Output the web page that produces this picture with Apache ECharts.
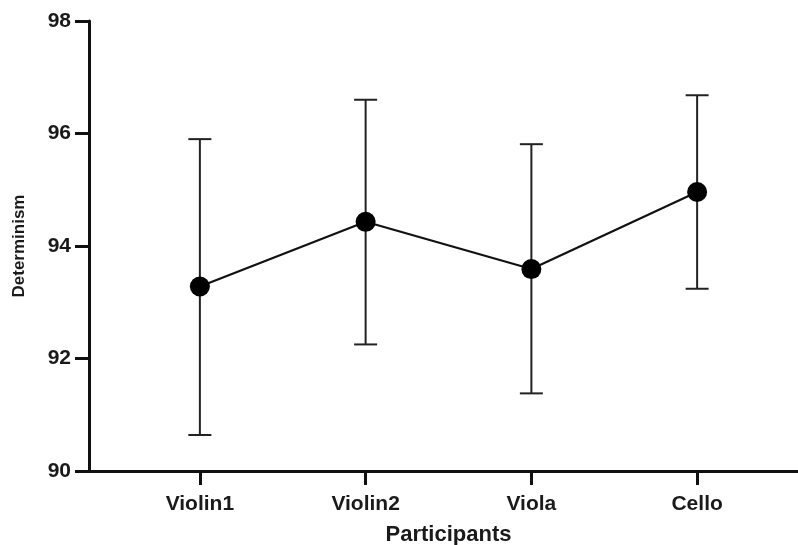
<!DOCTYPE html>
<html>
<head>
<meta charset="utf-8">
<script src="https://cdn.jsdelivr.net/npm/echarts@6/dist/echarts.min.js"></script>
<style>
html,body{margin:0;padding:0;background:#fff;}
#chart{width:798px;height:545px;}
</style>
</head>
<body>
<div id="chart"></div>
<script>
const categories = ['Violin1', 'Violin2', 'Viola', 'Cello'];
const means = [93.28, 94.43, 93.59, 94.96];
const upper = [95.90, 96.60, 95.81, 96.68];
const lower = [90.64, 92.25, 91.38, 93.24];
const yTicks = [90, 92, 94, 96, 98];

const FONT = '"Liberation Sans", Arial, sans-serif';
const INK = '#111';

const errData = categories.map((c, i) => [i, lower[i], upper[i]]);

const chart = echarts.init(document.getElementById('chart'), null, {renderer: 'canvas'});
chart.setOption({
  animation: false,
  backgroundColor: '#fff',
  grid: [
    {left: 89, right: 0, top: 21, bottom: 74, containLabel: false, outerBoundsMode: 'none'},
    {left: 117, right: 18, top: 21, bottom: 74, containLabel: false, outerBoundsMode: 'none'}
  ],
  xAxis: [
    {
      gridIndex: 0, type: 'value', min: 0, max: 1,
      axisLine: {show: true, lineStyle: {color: INK, width: 3}},
      axisTick: {show: false}, axisLabel: {show: false}, splitLine: {show: false}
    },
    {
      gridIndex: 1, type: 'category', data: categories,
      axisLine: {show: false},
      axisTick: {show: true, alignWithLabel: true, inside: false, length: 14, lineStyle: {color: INK, width: 3}},
      axisLabel: {margin: 23, fontSize: 21, fontWeight: 'bold', color: '#1a1a1a', fontFamily: FONT},
      name: 'Participants', nameLocation: 'middle', nameGap: 53,
      nameTextStyle: {fontSize: 22, fontWeight: 'bold', color: '#1a1a1a', fontFamily: FONT},
      splitLine: {show: false}
    }
  ],
  yAxis: [
    {
      gridIndex: 0, type: 'value', min: yTicks[0], max: yTicks[yTicks.length - 1], interval: 2,
      axisLine: {show: true, lineStyle: {color: INK, width: 3}},
      axisTick: {show: true, length: 14, lineStyle: {color: INK, width: 3}},
      axisLabel: {margin: 18, fontSize: 21, fontWeight: 'bold', color: '#1a1a1a', fontFamily: FONT},
      splitLine: {show: false},
      name: 'Determinism', nameLocation: 'middle', nameGap: 61, nameRotate: 90,
      nameTextStyle: {fontSize: 17, fontWeight: 'bold', color: '#1a1a1a', fontFamily: FONT}
    },
    {
      gridIndex: 1, type: 'value', min: yTicks[0], max: yTicks[yTicks.length - 1], show: false
    }
  ],
  series: [
    {
      type: 'custom',
      xAxisIndex: 1, yAxisIndex: 1,
      data: errData,
      z: 1,
      renderItem: function (params, api) {
        const x = api.value(0);
        const lo = api.coord([x, api.value(1)]);
        const hi = api.coord([x, api.value(2)]);
        const cap = 11.5;
        const style = {stroke: '#222', lineWidth: 2};
        return {
          type: 'group',
          children: [
            {type: 'line', shape: {x1: lo[0], y1: lo[1], x2: hi[0], y2: hi[1]}, style: style},
            {type: 'line', shape: {x1: hi[0] - cap, y1: hi[1], x2: hi[0] + cap, y2: hi[1]}, style: style},
            {type: 'line', shape: {x1: lo[0] - cap, y1: lo[1], x2: lo[0] + cap, y2: lo[1]}, style: style}
          ]
        };
      }
    },
    {
      type: 'line',
      xAxisIndex: 1, yAxisIndex: 1,
      data: means,
      z: 3,
      symbol: 'circle', symbolSize: 20,
      itemStyle: {color: '#000'},
      lineStyle: {color: '#111', width: 2.2}
    }
  ]
});
</script>
</body>
</html>
